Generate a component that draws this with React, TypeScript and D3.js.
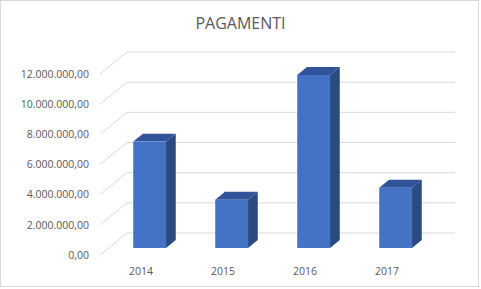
import React from "react";
import * as d3 from "d3";

const categories = ["2014", "2015", "2016", "2017"];
const values = [7050000, 3200000, 11470000, 4000000];
const tickValues = [0, 2000000, 4000000, 6000000, 8000000, 10000000, 12000000];
const title = "PAGAMENTI";

const W = 481;
const H = 289;

function fmt(v: number) {
  const s = d3.format(",.2f")(v);
  return s.replace(/,/g, "#").replace(/\./g, ",").replace(/#/g, ".");
}

export default function App() {
  const floorY = 255; // front edge of floor
  const frontLeft = 100;
  const frontRight = 428;
  const depthDX = 27;
  const depthDY = -22;
  const f1 = 0.32;
  const f2 = 0.68;

  const y = d3.scaleLinear().domain([0, 12000000]).range([0, 181]);
  const x = d3
    .scaleBand<string>()
    .domain(categories)
    .range([frontLeft, frontRight])
    .paddingInner(0.6)
    .paddingOuter(0.3);

  const grid = "#d9d9d9";
  const font = "'Open Sans', sans-serif";

  return (
    <svg
      width={W}
      height={H}
      style={{ position: "fixed", left: 0, top: 0, background: "#fff" }}
    >
      <rect x={0.5} y={0.5} width={478} height={286} fill="#fff" stroke="#d9d9d9" />
      <text
        x={240.5}
        y={28.5}
        textAnchor="middle"
        fontFamily={font}
        fontSize={16}
        fill="#595959"
      >
        {title}
      </text>
      {tickValues.map((t) => {
        const h = y(t);
        return (
          <g key={t}>
            <line
              x1={frontLeft + depthDX}
              x2={frontRight + depthDX}
              y1={floorY + depthDY - h}
              y2={floorY + depthDY - h}
              stroke={grid}
              strokeWidth={1}
            />
            <line
              x1={frontLeft}
              x2={frontLeft + depthDX}
              y1={floorY - h}
              y2={floorY + depthDY - h}
              stroke={grid}
              strokeWidth={1}
            />
            <text
              x={89}
              y={floorY - h}
              dy="0.35em"
              textAnchor="end"
              fontFamily={font}
              fontSize={10.5}
              fill="#595959"
            >
              {fmt(t)}
            </text>
          </g>
        );
      })}
      {categories.map((c, i) => {
        const v = values[i];
        const h = y(v);
        const x0 = (x(c) as number) + depthDX * f1;
        const x1 = x0 + x.bandwidth();
        const yb = floorY + depthDY * f1;
        const yt = yb - h;
        const ddx = depthDX * (f2 - f1);
        const ddy = depthDY * (f2 - f1);
        const side = `M${x1},${yt} L${x1 + ddx},${yt + ddy} L${x1 + ddx},${yb + ddy} L${x1},${yb} Z`;
        const top = `M${x0},${yt} L${x0 + ddx},${yt + ddy} L${x1 + ddx},${yt + ddy} L${x1},${yt} Z`;
        return (
          <g key={c}>
            <path d={side} fill="#2a4a80" />
            <path d={top} fill="#30539a" />
            <rect x={x0} y={yt} width={x.bandwidth()} height={h} fill="#4472c4" />
          </g>
        );
      })}
      {categories.map((c) => (
        <text
          key={c}
          x={(x(c) as number) + x.bandwidth() / 2}
          y={274.5}
          textAnchor="middle"
          fontFamily={font}
          fontSize={10.5}
          fill="#595959"
        >
          {c}
        </text>
      ))}
    </svg>
  );
}
